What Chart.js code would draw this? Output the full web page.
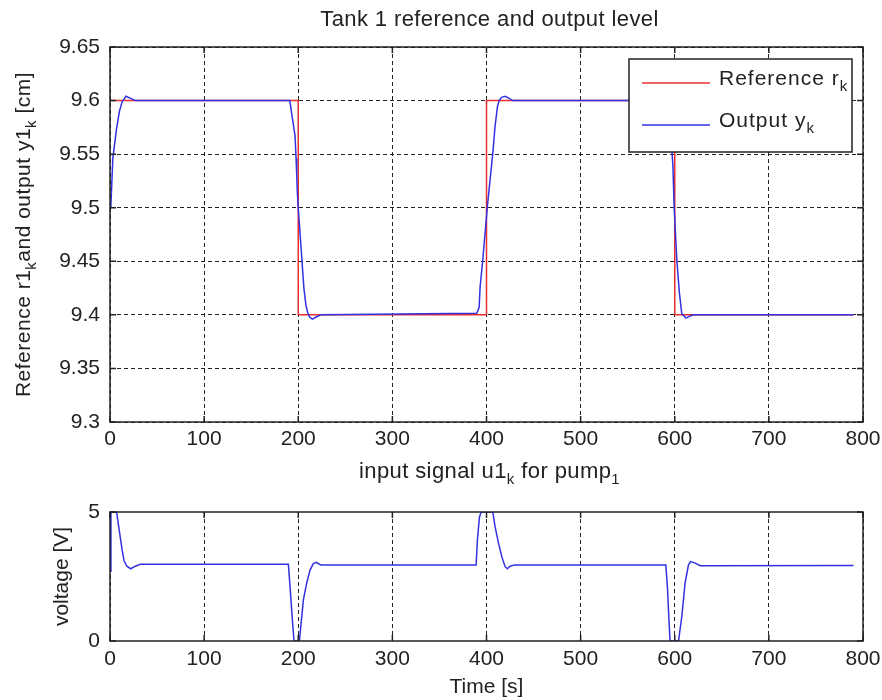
<!DOCTYPE html>
<html>
<head>
<meta charset="utf-8">
<title>Tank 1 reference and output level</title>
<script src="https://cdn.jsdelivr.net/npm/chart.js@4.4.0/dist/chart.umd.min.js"></script>
<style>
  body { margin: 0; background: #fff; }
  #levelChart { position: absolute; left: 0; top: 0; }
  #pumpChart { position: absolute; left: 0; top: 460px; }
</style>
</head>
<body>
<canvas id="levelChart" width="882" height="460"></canvas>
<canvas id="pumpChart" width="882" height="240"></canvas>
<script>
// reference r1_k (step signal)
const refTime = [0, 200, 200, 400, 400, 600, 600, 790];
const refLevel = [9.6, 9.6, 9.4, 9.4, 9.6, 9.6, 9.4, 9.4];

// output y1_k
const outTime = [0, 1, 3, 7, 10, 13, 17, 22, 27,
  191, 193, 196.6, 197.7, 198.4, 199, 200, 202, 204, 206, 208, 210, 212, 215, 219, 224,
  389.7, 392.2, 393.2, 396, 401, 403.8, 406.7, 409.1, 411.6, 413.4, 416, 420, 424, 428,
  591, 593, 596, 598, 599.4, 602.2, 605, 607.5, 612, 616.4, 620, 790];
const outLevel = [9.5, 9.503, 9.546, 9.574, 9.59, 9.599, 9.604, 9.602, 9.6,
  9.6, 9.588, 9.567, 9.546, 9.53, 9.515, 9.5, 9.475, 9.45, 9.425, 9.41, 9.402, 9.398, 9.396, 9.398, 9.4,
  9.4015, 9.407, 9.426, 9.451, 9.502, 9.526, 9.551, 9.576, 9.594, 9.6, 9.603, 9.604, 9.602, 9.6,
  9.6, 9.588, 9.567, 9.54, 9.5, 9.451, 9.42, 9.401, 9.397, 9.399, 9.4, 9.4];

// pump input u1_k
const pumpTime = [0, 1, 7, 9, 11, 13, 15, 18, 22, 27, 32,
  189.5, 191.3, 194, 195.5, 201.2, 205.5, 209, 212.5, 216, 219, 224,
  389, 390.3, 392.5, 394.3, 406.7, 409, 412.7, 416.3, 419.8, 422.2, 425, 430,
  590.5, 592.2, 594, 595, 604, 607.5, 611, 614.6, 617, 621.7, 627, 790];
const pumpVolt = [2.7, 5, 5, 4.5, 4.0, 3.5, 3.1, 2.9, 2.8, 2.9, 2.97,
  2.97, 2.1, 0.7, 0, 0, 1.6, 2.25, 2.75, 3.0, 3.05, 2.95,
  2.95, 3.9, 4.8, 5, 5, 4.45, 3.8, 3.26, 2.88, 2.8, 2.9, 2.95,
  2.95, 2.1, 0.7, 0, 0, 0.95, 2.25, 2.95, 3.08, 3.02, 2.92, 2.93];

const timeTicks = [0, 100, 200, 300, 400, 500, 600, 700, 800];
const levelTicks = [9.3, 9.35, 9.4, 9.45, 9.5, 9.55, 9.6, 9.65];
const voltTicks = [0, 5];

const FONT = 'Liberation Sans, Arial, sans-serif';
const TEXT = '#222';

function toPoints(xs, ys) {
  return xs.map((x, i) => ({ x: x, y: ys[i] }));
}

// draws text with subscript parts, centered (or left aligned) at x,y
function drawRich(ctx, parts, x, y, opt) {
  const size = opt.size || 21;
  ctx.save();
  ctx.translate(x, y);
  ctx.rotate(opt.angle || 0);
  ctx.fillStyle = TEXT;
  ctx.textBaseline = 'middle';
  ctx.textAlign = 'left';
  ctx.letterSpacing = (opt.spacing || 0) + 'px';
  let total = 0;
  parts.forEach(p => {
    ctx.font = (p.sub ? 15 : size) + 'px ' + FONT;
    p.w = ctx.measureText(p.text).width;
    total += p.w;
  });
  let cx = opt.align === 'left' ? 0 : -total / 2;
  parts.forEach(p => {
    ctx.font = (p.sub ? 15 : size) + 'px ' + FONT;
    ctx.fillText(p.text, cx, p.sub ? 8 : 0);
    cx += p.w;
  });
  ctx.restore();
}

// box around plot area with short inward tick marks, titles and legend
const framePlugin = {
  id: 'frame',
  afterDraw(chart) {
    const { ctx, chartArea: a, scales } = chart;
    ctx.save();
    ctx.strokeStyle = '#222';
    ctx.lineWidth = 1.5;
    ctx.beginPath();
    scales.x.ticks.forEach(t => {
      const px = scales.x.getPixelForValue(t.value);
      ctx.moveTo(px, a.bottom); ctx.lineTo(px, a.bottom - 6);
      ctx.moveTo(px, a.top); ctx.lineTo(px, a.top + 6);
    });
    scales.y.ticks.forEach(t => {
      const py = scales.y.getPixelForValue(t.value);
      ctx.moveTo(a.left, py); ctx.lineTo(a.left + 6, py);
      ctx.moveTo(a.right, py); ctx.lineTo(a.right - 6, py);
    });
    ctx.stroke();
    ctx.strokeRect(a.left, a.top, a.right - a.left, a.bottom - a.top);
    ctx.restore();

    const opts = chart.options.plugins.frame || {};
    if (opts.title) {
      drawRich(ctx, opts.title, (a.left + a.right) / 2 + 3, opts.titleY, { size: 22, spacing: 0.4 });
    }
    if (opts.yTitle) {
      drawRich(ctx, opts.yTitle, opts.yTitleX, (a.top + a.bottom) / 2, { angle: -Math.PI / 2, spacing: 0.5 });
    }
    if (opts.legend) {
      const w = 223, h = 93;
      const lx = a.right - 11 - w, ly = a.top + 12;
      ctx.save();
      ctx.fillStyle = '#fff';
      ctx.fillRect(lx, ly, w, h);
      ctx.strokeStyle = '#222';
      ctx.lineWidth = 1.5;
      ctx.strokeRect(lx, ly, w, h);
      opts.legend.forEach((item, i) => {
        const yy = ly + 24 + i * 42;
        ctx.strokeStyle = item.color;
        ctx.lineWidth = 1.5;
        ctx.beginPath();
        ctx.moveTo(lx + 13, yy); ctx.lineTo(lx + 81, yy);
        ctx.stroke();
        drawRich(ctx, item.parts, lx + 90, yy - 4, { align: 'left', spacing: 1 });
      });
      ctx.restore();
    }
  }
};

function gridOpts(show) {
  return { display: show, color: '#222', lineWidth: 1, drawTicks: false };
}

// keep the plot box edges fixed, ignoring label overflow
function fitX(h) {
  return s => { s.height = h; s.paddingLeft = 0; s.paddingRight = 0; };
}

new Chart(document.getElementById('levelChart').getContext('2d'), {
  type: 'line',
  data: {
    datasets: [{
      label: 'Output',
      data: toPoints(outTime, outLevel),
      borderColor: 'rgb(50,50,225)',
      borderWidth: 1.5,
      pointRadius: 0,
      tension: 0,
      order: 0
    }, {
      label: 'Reference',
      data: toPoints(refTime, refLevel),
      borderColor: 'rgb(235,45,45)',
      borderWidth: 1.5,
      pointRadius: 0,
      tension: 0,
      order: 1
    }]
  },
  options: {
    responsive: false,
    animation: false,
    layout: { padding: { top: 47, right: 19, left: 0, bottom: 0 } },
    plugins: {
      legend: { display: false },
      tooltip: { enabled: false },
      frame: {
        title: [{ text: 'Tank 1 reference and output level' }],
        titleY: 20,
        yTitle: [{ text: 'Reference r1' }, { text: 'k', sub: true }, { text: 'and output y1' },
                 { text: 'k', sub: true }, { text: ' [cm]' }],
        yTitleX: 24,
        legend: [
          { color: 'rgb(235,45,45)', parts: [{ text: 'Reference r' }, { text: 'k', sub: true }] },
          { color: 'rgb(50,50,225)', parts: [{ text: 'Output y' }, { text: 'k', sub: true }] }
        ]
      }
    },
    scales: {
      x: {
        type: 'linear', min: 0, max: 800,
        afterBuildTicks: s => { s.ticks = timeTicks.map(v => ({ value: v })); },
        afterFit: fitX(38),
        grid: gridOpts(true),
        border: { display: false, dash: [4, 3] },
        ticks: { padding: 5, color: TEXT, font: { family: FONT, size: 21 }, maxRotation: 0 }
      },
      y: {
        type: 'linear', min: 9.3, max: 9.65,
        afterBuildTicks: s => { s.ticks = levelTicks.map(v => ({ value: v })); },
        afterFit: s => { s.width = 110; },
        grid: gridOpts(true),
        border: { display: false, dash: [4, 3] },
        ticks: { padding: 10, color: TEXT, font: { family: FONT, size: 21 }, callback: v => String(v) }
      }
    }
  },
  plugins: [framePlugin]
});

new Chart(document.getElementById('pumpChart').getContext('2d'), {
  type: 'line',
  data: {
    datasets: [{
      label: 'u1',
      data: toPoints(pumpTime, pumpVolt),
      borderColor: 'rgb(50,50,225)',
      borderWidth: 1.5,
      pointRadius: 0,
      tension: 0
    }]
  },
  options: {
    responsive: false,
    animation: false,
    layout: { padding: { top: 52, right: 19, left: 0, bottom: 0 } },
    plugins: {
      legend: { display: false },
      tooltip: { enabled: false },
      frame: {
        title: [{ text: 'input signal u1' }, { text: 'k', sub: true }, { text: ' for pump' },
                { text: '1', sub: true }],
        titleY: 12
      }
    },
    scales: {
      x: {
        type: 'linear', min: 0, max: 800,
        afterBuildTicks: s => { s.ticks = timeTicks.map(v => ({ value: v })); },
        afterFit: fitX(59),
        grid: gridOpts(true),
        border: { display: false, dash: [4, 3] },
        ticks: { padding: 6, color: TEXT, font: { family: FONT, size: 21 }, maxRotation: 0 },
        title: { display: true, text: 'Time [s]', color: TEXT, font: { family: FONT, size: 21 },
                 padding: { top: 0, bottom: 0 } }
      },
      y: {
        type: 'linear', min: 0, max: 5,
        afterBuildTicks: s => { s.ticks = voltTicks.map(v => ({ value: v })); },
        afterFit: s => { s.width = 110; },
        grid: gridOpts(false),
        border: { display: false },
        ticks: { padding: 10, color: TEXT, font: { family: FONT, size: 21 } },
        title: { display: true, text: 'voltage [V]', color: TEXT, font: { family: FONT, size: 21 },
                 padding: { top: 50, bottom: 0 } }
      }
    }
  },
  plugins: [framePlugin]
});
</script>
</body>
</html>
